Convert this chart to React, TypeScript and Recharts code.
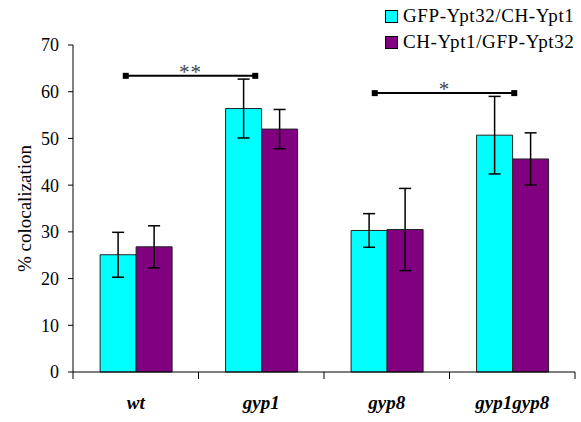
import { BarChart, Bar, XAxis, YAxis, ErrorBar, ReferenceLine } from 'recharts';

const categories = ['wt', 'gyp1', 'gyp8', 'gyp1gyp8'];
const gfpYpt32 = [25.1, 56.4, 30.3, 50.7];
const gfpYpt32Err = [4.8, 6.3, 3.6, 8.3];
const chYpt1 = [26.8, 52.0, 30.5, 45.6];
const chYpt1Err = [4.5, 4.2, 8.8, 5.6];
const yTicks = [0, 10, 20, 30, 40, 50, 60, 70];

// significance brackets between categories, y in %
const brackets = [
  { from: 'wt', to: 'gyp1', y: 63.4, label: '**' },
  { from: 'gyp8', to: 'gyp1gyp8', y: 59.7, label: '*' },
];

const SERIES = [
  { key: 'gfp', err: 'gfpErr', name: 'GFP-Ypt32/CH-Ypt1', color: '#00FFFF' },
  { key: 'ch', err: 'chErr', name: 'CH-Ypt1/GFP-Ypt32', color: '#800080' },
];

const data = categories.map((c, i) => ({
  name: c,
  gfp: gfpYpt32[i],
  gfpErr: gfpYpt32Err[i],
  ch: chYpt1[i],
  chErr: chYpt1Err[i],
}));

const FONT = '"Liberation Serif", "Times New Roman", serif';

// category label plus tick marks on the band edges
function CategoryTick(props: any) {
  const { x, y, payload, index, visibleTicksCount } = props;
  const half = payload.offset || 0;
  const axisY = y - 24;
  return (
    <g>
      <line x1={x - half} y1={axisY} x2={x - half} y2={axisY + 7} stroke="#000" />
      {index === visibleTicksCount - 1 && (
        <line x1={x + half} y1={axisY} x2={x + half} y2={axisY + 7} stroke="#000" />
      )}
      <text
        x={x}
        y={y + 13}
        textAnchor="middle"
        fill="#000"
        fontFamily={FONT}
        fontSize={19}
        fontWeight="bold"
        fontStyle="italic"
      >
        {payload.value}
      </text>
    </g>
  );
}

function makeBracket(label: string, dLeft: number, dRight: number) {
  return (props: any) => {
    const { x1, x2, y1 } = props;
    const l = x1 + dLeft;
    const r = x2 + dRight;
    return (
      <g>
        <line x1={l} y1={y1} x2={r} y2={y1} stroke="#000" strokeWidth={2} />
        <rect x={l - 1} y={y1 - 3} width={6} height={6} fill="#000" />
        <rect x={r - 5} y={y1 - 3} width={6} height={6} fill="#000" />
        <text
          x={(l + r) / 2}
          y={y1 + 3}
          textAnchor="middle"
          fill="#444"
          fontFamily={FONT}
          fontSize={21}
          letterSpacing={1}
        >
          {label}
        </text>
      </g>
    );
  };
}

const bracketShapes = [makeBracket(brackets[0].label, -12, -4), makeBracket(brackets[1].label, -14, 4)];

function LegendBox() {
  return (
    <div
      style={{
        position: 'absolute',
        left: 385,
        top: 3,
        fontFamily: FONT,
        fontSize: 19,
        letterSpacing: 0.6,
        color: '#000',
        lineHeight: '26px',
        whiteSpace: 'nowrap',
      }}
    >
      {SERIES.map((s) => (
        <div key={s.key} style={{ display: 'flex', alignItems: 'center' }}>
          <span
            style={{
              display: 'inline-block',
              width: 11,
              height: 11,
              background: s.color,
              border: '1px solid #000',
              marginRight: 5,
            }}
          />
          {s.name}
        </div>
      ))}
    </div>
  );
}

export default function App() {
  return (
    <div style={{ position: 'absolute', left: 0, top: 0, width: 581, height: 422, background: '#fff' }}>
      <BarChart
        width={581}
        height={422}
        data={data}
        margin={{ top: 45, right: 6, bottom: 0, left: 0 }}
        barCategoryGap="21.6%"
        barGap={0}
      >
        <XAxis
          dataKey="name"
          stroke="#000"
          tickLine={false}
          height={50}
          tickSize={0}
          tickMargin={24}
          tick={<CategoryTick />}
        />
        <YAxis
          domain={[0, 70]}
          ticks={yTicks}
          width={73}
          tickSize={5}
          tickMargin={9}
          stroke="#000"
          tick={{ fill: '#000', fontFamily: FONT, fontSize: 18 }}
          label={{
            value: '% colocalization',
            angle: -90,
            position: 'insideLeft',
            offset: 24,
            style: { textAnchor: 'middle', fill: '#000', fontFamily: FONT, fontSize: 19 },
          }}
        />
        {SERIES.map((s) => (
          <Bar
            key={s.key}
            dataKey={s.key}
            name={s.name}
            fill={s.color}
            stroke="#222"
            strokeWidth={1}
            isAnimationActive={false}
          >
            <ErrorBar dataKey={s.err} width={6} stroke="#000" strokeWidth={1.5} />
          </Bar>
        ))}
        {brackets.map((b, i) => (
          <ReferenceLine
            key={`br-${i}`}
            segment={[
              { x: b.from, y: b.y },
              { x: b.to, y: b.y },
            ]}
            shape={bracketShapes[i]}
          />
        ))}
      </BarChart>
      <LegendBox />
    </div>
  );
}
